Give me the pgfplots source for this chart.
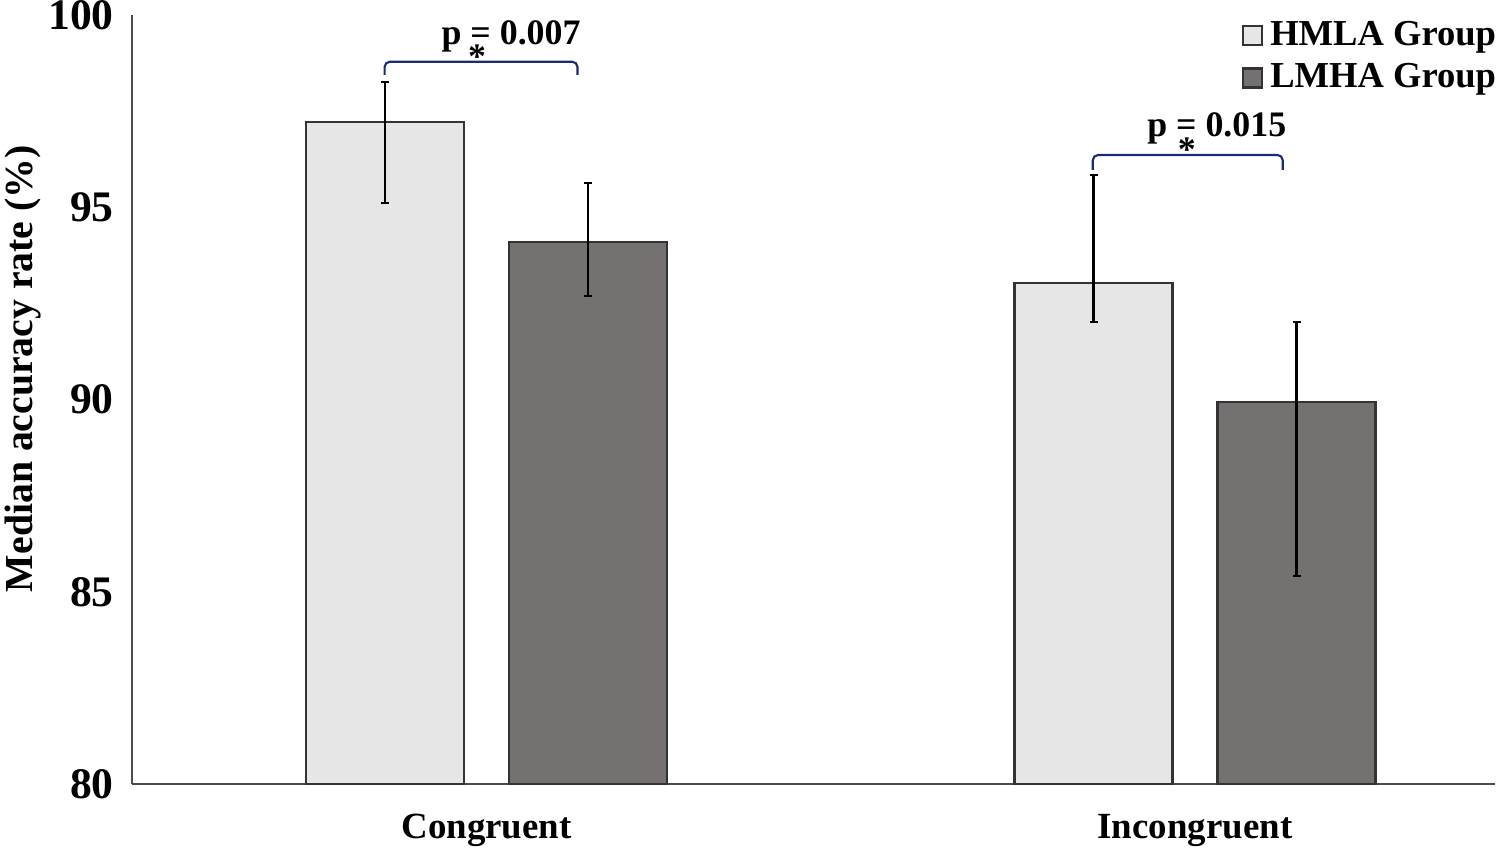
\documentclass[border=0pt]{standalone}
\usepackage{pgfplots}
\pgfplotsset{compat=1.18}
\usepackage{fontspec}
\setmainfont{Liberation Serif}
\definecolor{hmla}{RGB}{231,230,230}
\definecolor{lmha}{RGB}{118,113,113}
\definecolor{brk}{RGB}{28,42,115}
\begin{document}
\begin{tikzpicture}
\useasboundingbox (0,0) rectangle (15cm,8.51cm);
\begin{axis}[
  at={(1.32cm,0.67cm)}, anchor=south west,
  scale only axis, width=13.63cm, height=7.69cm,
  xmin=-0.5004, xmax=1.4234, ymin=80, ymax=100,
  axis x line=bottom, axis y line=left,
  axis line style={-, black!70, line width=0.6pt},
  every outer x axis line/.append style={-},
  every outer y axis line/.append style={-},
  ybar=0.45cm, bar width=1.58cm,
  xtick={0,1}, xticklabels={Congruent,Incongruent},
  ytick={80,85,90,95,100},
  major tick length=0pt,
  xticklabel style={font=\fontsize{10.5}{12}\selectfont\bfseries, yshift=-1.8mm},
  yticklabel style={font=\fontsize{12.4}{14}\selectfont\bfseries, xshift=-0.6mm},
  /pgf/number format/assume math mode=true,
  ylabel={Median accuracy rate (\%)},
  ylabel style={font=\fontsize{11.3}{13}\selectfont\bfseries, at={(axis description cs:-0.08,0.54)}, anchor=center},
  legend style={at={(rel axis cs:1,1)}, anchor=north east, xshift=1.5pt, draw=none, fill=none, inner sep=0pt,
    column sep=1pt,
    font=\fontsize{10.4}{12}\selectfont\bfseries,
    nodes={inner sep=1pt, text height=7.5pt, text depth=2.5pt}},
  legend cell align=left,
  clip=false,
]
\addplot[fill=hmla, draw=black!80, line width=0.6pt,
  legend image code/.code={\draw[fill=hmla, draw=black!80, line width=0.6pt] (0cm,-0.85mm) rectangle (1.9mm,1.05mm);},
  error bars/.cd, y dir=both, y explicit,
  error bar style={black, line width=0.6pt},
  error mark options={rotate=90, black, line width=0.6pt, mark size=0.4mm}]
  coordinates {(0,97.22) += (0,1.04) -= (0,2.11)
               (1,93.03) += (0,2.81) -= (0,1.01)};
\addplot[fill=lmha, draw=black!80, line width=0.6pt,
  legend image code/.code={\draw[fill=lmha, draw=black!80, line width=0.6pt] (0cm,-0.85mm) rectangle (1.9mm,1.05mm);},
  error bars/.cd, y dir=both, y explicit,
  error bar style={black, line width=0.6pt},
  error mark options={rotate=90, black, line width=0.6pt, mark size=0.4mm}]
  coordinates {(0,94.10) += (0,1.53) -= (0,1.41)
               (1,89.94) += (0,2.08) -= (0,4.53)};
\legend{HMLA Group, LMHA Group}
\draw[brk, line width=0.6pt, rounded corners=1.5pt] (axis cs:-0.1439,98.44) -- (axis cs:-0.1439,98.785) -- (axis cs:0.1284,98.785) -- (axis cs:0.1284,98.44);
\draw[brk, line width=0.6pt, rounded corners=1.5pt] (axis cs:0.8557,95.97) -- (axis cs:0.8557,96.36) -- (axis cs:1.1238,96.36) -- (axis cs:1.1238,95.97);
\node[anchor=base, inner sep=0pt, font=\fontsize{10.2}{12}\selectfont\bfseries] at (axis cs:0.0346,99.22) {p = 0.007};
\node[anchor=base, inner sep=0pt, font=\fontsize{10.2}{12}\selectfont\bfseries] at (axis cs:-0.0134,98.6) {*};
\node[anchor=base, inner sep=0pt, font=\fontsize{10.2}{12}\selectfont\bfseries] at (axis cs:1.0307,96.85) {p = 0.015};
\node[anchor=base, inner sep=0pt, font=\fontsize{10.2}{12}\selectfont\bfseries] at (axis cs:0.9884,96.2) {*};
\end{axis}
\end{tikzpicture}
\end{document}
